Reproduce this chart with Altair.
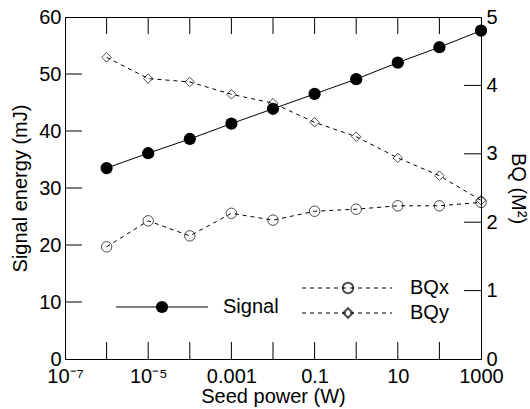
import altair as alt
import pandas as pd
import math

# ---- data ----
seed_power = [1e-6, 1e-5, 1e-4, 1e-3, 1e-2, 0.1, 1, 10, 100, 1000]
signal = [33.5, 36.1, 38.6, 41.3, 43.9, 46.5, 49.1, 52.0, 54.7, 57.6]
bqx = [1.64, 2.02, 1.80, 2.13, 2.03, 2.16, 2.19, 2.24, 2.24, 2.29]
bqy = [4.41, 4.10, 4.05, 3.87, 3.74, 3.46, 3.25, 2.94, 2.68, 2.32]

x_tick_values = [1e-7, 1e-5, 1e-3, 0.1, 10, 1000]
x_tick_labels = ["10⁻⁷", "10⁻⁵", "0.001", "0.1", "10", "1000"]
x_minor_decades = [1e-6, 1e-5, 1e-4, 1e-3, 1e-2, 0.1, 1, 10, 100]
left_ticks = [0, 10, 20, 30, 40, 50, 60]
right_ticks = [0, 1, 2, 3, 4, 5]

W, H = 416, 342
FONT = "Liberation Sans"
FS = 20
TL = 17  # inward tick length
CIRC = 110
DIAM = 90

df = pd.DataFrame({"p": seed_power, "signal": signal, "bqx": bqx, "bqy": bqy})

# label expression built from the label arrays
expr = "''"
for v, lab in reversed(list(zip(x_tick_values, x_tick_labels))):
    expr = f"abs(log(datum.value)/log(10) - ({math.log10(v)})) < 0.01 ? '{lab}' : {expr}"

x_scale = alt.Scale(type="log", domain=[1e-7, 1000])
x_axis = alt.Axis(values=x_tick_values, labelExpr=expr, ticks=False, title="Seed power (W)",
                  labelFlush=False, labelOverlap=False, labelPadding=7, titlePadding=0,
                  grid=False, domainColor="black")
X = lambda f: alt.X(f, type="quantitative", scale=x_scale, axis=x_axis)

left_scale = alt.Scale(domain=[0, 60], nice=False, zero=True)
left_axis = alt.Axis(values=left_ticks, ticks=False, orient="left", title="Signal energy (mJ)",
                     labelFlush=False, labelPadding=4, titlePadding=8, grid=False, domainColor="black")
right_scale = alt.Scale(domain=[0, 5], nice=False, zero=True)
right_axis = alt.Axis(values=right_ticks, ticks=False, orient="right", title="BQ (M²)",
                      labelFlush=False, labelPadding=5, titlePadding=10, grid=False, domainColor="black")
YL = lambda f: alt.Y(f, type="quantitative", scale=left_scale, axis=left_axis)
YR = lambda f: alt.Y(f, type="quantitative", scale=right_scale, axis=right_axis)

base = alt.Chart(df)

sig_line = base.mark_line(color="black", strokeWidth=1).encode(x=X("p"), y=YL("signal"))
sig_pts = base.mark_circle(color="black", opacity=1, size=150).encode(x=X("p"), y=YL("signal"))

dec_df = pd.DataFrame({"d": x_minor_decades})
bot_ticks = alt.Chart(dec_df).mark_rule(color="black", strokeWidth=1).encode(
    x=X("d"), y=alt.value(H), y2=alt.value(H - TL))
top_ticks = alt.Chart(dec_df).mark_rule(color="black", strokeWidth=1).encode(
    x=X("d"), y=alt.value(0), y2=alt.value(TL))
lt_df = pd.DataFrame({"v": left_ticks[1:-1]})
l_ticks = alt.Chart(lt_df).mark_rule(color="black", strokeWidth=1).encode(
    y=YL("v"), x=alt.value(0), x2=alt.value(TL))

# legend (drawn inside the plot)
one = pd.DataFrame({"k": [0]})
leg_sig_line = alt.Chart(one).mark_rule(color="black", strokeWidth=1).encode(
    x=alt.value(51), x2=alt.value(143), y=alt.value(290))
leg_sig_pt = alt.Chart(one).mark_circle(color="black", opacity=1, size=150).encode(
    x=alt.value(97), y=alt.value(290))
leg_sig_txt = alt.Chart(one).mark_text(text="Signal", align="left", baseline="middle",
                                       font=FONT, fontSize=FS, color="black").encode(
    x=alt.value(158), y=alt.value(290))

left = alt.layer(sig_line, sig_pts, bot_ticks, top_ticks, l_ticks,
                 leg_sig_line, leg_sig_pt, leg_sig_txt)

bqx_line = base.mark_line(color="black", strokeWidth=1, strokeDash=[4, 4]).encode(x=X("p"), y=YR("bqx"))
bqx_pts = base.mark_point(shape="circle", filled=False, color="black", size=CIRC, strokeWidth=1).encode(
    x=X("p"), y=YR("bqx"))
bqy_line = base.mark_line(color="black", strokeWidth=1, strokeDash=[4, 4]).encode(x=X("p"), y=YR("bqy"))
bqy_pts = base.mark_point(shape="diamond", filled=False, color="black", size=DIAM, strokeWidth=1).encode(
    x=X("p"), y=YR("bqy"))
rt_df = pd.DataFrame({"v": right_ticks[1:-1]})
r_ticks = alt.Chart(rt_df).mark_rule(color="black", strokeWidth=1).encode(
    y=YR("v"), x=alt.value(W - TL), x2=alt.value(W))

leg_bqx_line = alt.Chart(one).mark_rule(color="black", strokeWidth=1, strokeDash=[4, 4]).encode(
    x=alt.value(237), x2=alt.value(327), y=alt.value(271))
leg_bqx_pt = alt.Chart(one).mark_point(shape="circle", filled=False, color="black", size=CIRC).encode(
    x=alt.value(283), y=alt.value(271))
leg_bqx_txt = alt.Chart(one).mark_text(text="BQx", align="left", baseline="middle",
                                       font=FONT, fontSize=FS, color="black").encode(
    x=alt.value(345), y=alt.value(271))
leg_bqy_line = alt.Chart(one).mark_rule(color="black", strokeWidth=1, strokeDash=[4, 4]).encode(
    x=alt.value(237), x2=alt.value(327), y=alt.value(296))
leg_bqy_pt = alt.Chart(one).mark_point(shape="diamond", filled=False, color="black", size=DIAM).encode(
    x=alt.value(283), y=alt.value(296))
leg_bqy_txt = alt.Chart(one).mark_text(text="BQy", align="left", baseline="middle",
                                       font=FONT, fontSize=FS, color="black").encode(
    x=alt.value(345), y=alt.value(296))

right = alt.layer(bqx_line, bqx_pts, bqy_line, bqy_pts, r_ticks,
                  leg_bqx_line, leg_bqx_pt, leg_bqx_txt, leg_bqy_line, leg_bqy_pt, leg_bqy_txt)

chart = alt.layer(left, right).resolve_scale(y="independent").properties(
    width=W, height=H,
    autosize=alt.AutoSizeParams(type="none"),
    padding={"left": 65, "top": 17, "right": 49, "bottom": 50},
    background="white",
).configure_view(stroke="black", strokeWidth=1).configure_axis(
    labelFont=FONT, titleFont=FONT, labelFontSize=FS, titleFontSize=FS,
    labelColor="black", titleColor="black", titleFontWeight="normal",
)

chart.save("out.html", embed_options={"renderer": "svg", "actions": False})
